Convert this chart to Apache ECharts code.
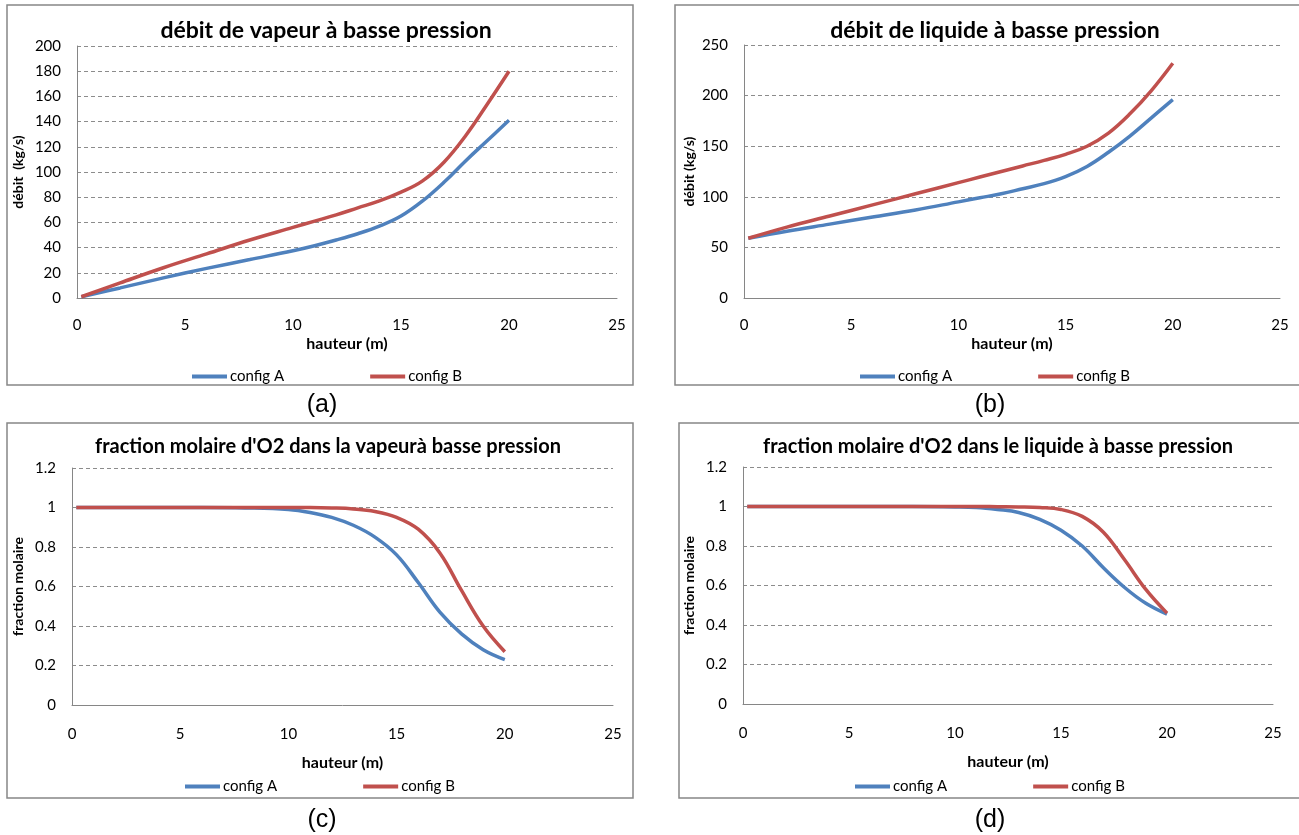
<!DOCTYPE html>
<html>
<head>
<meta charset="utf-8">
<script src="https://cdn.jsdelivr.net/npm/echarts@6/dist/echarts.min.js"></script>
<style>
  html, body { margin: 0; padding: 0; background: #fff; }
  #chart { width: 1299px; height: 835px; }
</style>
</head>
<body>
<div id="chart"></div>
<script>
// hauteur (m), shared by every panel
var heights = [0.2, 2, 4, 6, 8, 10, 11, 12, 13, 14, 15, 16, 17, 18, 19, 20];

// (a) débit de vapeur (kg/s)
var vapFlowA = [1, 8, 16, 23.5, 30.5, 37.5, 41.5, 46, 51, 57, 65, 77, 92, 109, 125, 141];
var vapFlowB = [1, 12, 24, 35, 46, 56, 61, 66, 71.5, 77, 84, 93, 108, 129, 154, 180];
// (b) débit de liquide (kg/s)
var liqFlowA = [59, 66, 73, 80, 87, 95, 99, 103, 108, 113, 120, 130, 144, 160, 178, 196];
var liqFlowB = [59, 70, 81, 92, 103, 114, 119.5, 125, 130.5, 136, 142, 150, 163, 182, 205, 232];
// (c) fraction molaire O2 vapeur
var vapFracA = [1, 1, 1, 1, 0.998, 0.99, 0.975, 0.95, 0.91, 0.85, 0.76, 0.62, 0.47, 0.36, 0.28, 0.23];
var vapFracB = [1, 1, 1, 1, 1, 1, 1, 0.998, 0.993, 0.98, 0.95, 0.89, 0.77, 0.58, 0.40, 0.27];
// (d) fraction molaire O2 liquide
var liqFracA = [1, 1, 1, 1, 1, 0.998, 0.995, 0.985, 0.97, 0.935, 0.88, 0.80, 0.69, 0.59, 0.51, 0.455];
var liqFracB = [1, 1, 1, 1, 1, 1, 1, 0.999, 0.998, 0.995, 0.985, 0.95, 0.87, 0.73, 0.58, 0.46];

var seriesNames = ['config A', 'config B'];
var colors = ['#4F81BD', '#C0504D'];

function pairs(ys) {
  return heights.map(function (h, i) { return [h, ys[i]]; });
}

var font = 'Lato, "Open Sans", sans-serif';
var gridColor = '#8c8c8c';

var panels = [
  { title: 'débit de vapeur à basse pression', tsize: 23, tx: 321, ty: 14,
    grid: { left: 77, top: 46, width: 540, height: 252 },
    ymax: 200, yint: 20, yname: 'débit  (kg/s)', ygap: 52, xgap: 38, xlab: 20,
    legend: { left: 187, top: 364 }, a: vapFlowA, b: vapFlowB },
  { title: 'débit de liquide à basse pression', tsize: 23, tx: 990, ty: 14,
    grid: { left: 744, top: 45, width: 536, height: 253 },
    ymax: 250, yint: 50, yname: 'débit (kg/s)', ygap: 48, xgap: 38, xlab: 20,
    legend: { left: 855, top: 364 }, a: liqFlowA, b: liqFlowB },
  { title: "fraction molaire d'O2 dans la vapeurà basse pression", tsize: 20, tx: 323, ty: 432,
    grid: { left: 72, top: 468, width: 541, height: 237 },
    ymax: 1.2, yint: 0.2, yname: 'fraction molaire', ygap: 47, xgap: 50, xlab: 22,
    legend: { left: 180, top: 774 }, a: vapFracA, b: vapFracB },
  { title: "fraction molaire d'O2 dans le liquide à basse pression", tsize: 20, tx: 993, ty: 432,
    grid: { left: 743, top: 467, width: 530, height: 237 },
    ymax: 1.2, yint: 0.2, yname: 'fraction molaire', ygap: 47, xgap: 50, xlab: 22,
    legend: { left: 850, top: 774 }, a: liqFracA, b: liqFracB }
];

var option = {
  animation: false,
  backgroundColor: '#fff',
  title: [], grid: [], xAxis: [], yAxis: [], legend: [], series: [],
  graphic: [
    { type: 'rect', shape: { x: 7, y: 5, width: 626, height: 380 }, style: { fill: 'none', stroke: '#878787', lineWidth: 1.5 } },
    { type: 'rect', shape: { x: 675, y: 5, width: 640, height: 380 }, style: { fill: 'none', stroke: '#878787', lineWidth: 1.5 } },
    { type: 'rect', shape: { x: 7, y: 423, width: 626, height: 375 }, style: { fill: 'none', stroke: '#878787', lineWidth: 1.5 } },
    { type: 'rect', shape: { x: 679, y: 423, width: 640, height: 375 }, style: { fill: 'none', stroke: '#878787', lineWidth: 1.5 } },
    { type: 'text', x: 322, y: 405, style: { text: '(a)', font: '25px "Liberation Sans", Arial, sans-serif', fill: '#000', textAlign: 'center', textVerticalAlign: 'middle' } },
    { type: 'text', x: 990, y: 405, style: { text: '(b)', font: '25px "Liberation Sans", Arial, sans-serif', fill: '#000', textAlign: 'center', textVerticalAlign: 'middle' } },
    { type: 'text', x: 322, y: 820, style: { text: '(c)', font: '25px "Liberation Sans", Arial, sans-serif', fill: '#000', textAlign: 'center', textVerticalAlign: 'middle' } },
    { type: 'text', x: 990, y: 820, style: { text: '(d)', font: '25px "Liberation Sans", Arial, sans-serif', fill: '#000', textAlign: 'center', textVerticalAlign: 'middle' } }
  ]
};

panels.forEach(function (p, i) {
  option.title.push({
    text: p.title, left: p.tx, top: p.ty, textAlign: 'center',
    textStyle: { fontFamily: font, fontWeight: 'bold', fontSize: p.tsize, color: '#000' }
  });
  option.grid.push(p.grid);
  option.xAxis.push({
    type: 'value', gridIndex: i, min: 0, max: 25, interval: 5,
    name: 'hauteur (m)', nameLocation: 'middle', nameGap: p.xgap,
    nameTextStyle: { fontFamily: font, fontWeight: 'bold', fontSize: 16, color: '#000' },
    axisLine: { lineStyle: { color: '#868686', width: 1 } },
    axisTick: { show: false },
    axisLabel: { fontFamily: font, fontSize: 15, color: '#000', margin: p.xlab },
    splitLine: { show: false }
  });
  option.yAxis.push({
    type: 'value', gridIndex: i, min: 0, max: p.ymax, interval: p.yint,
    name: p.yname, nameLocation: 'middle', nameGap: p.ygap, nameRotate: 90,
    nameTextStyle: { fontFamily: font, fontWeight: 'bold', fontSize: 14, color: '#000' },
    axisLine: { show: true, lineStyle: { color: '#868686', width: 1 } },
    axisTick: { show: false },
    axisLabel: { fontFamily: font, fontSize: 15, color: '#000', margin: 16 },
    splitLine: { show: true, lineStyle: { color: gridColor, type: [4, 3], width: 1 } }
  });
  option.legend.push({
    left: p.legend.left, top: p.legend.top, itemGap: 86,
    itemWidth: 35, itemHeight: 4, icon: 'rect',
    data: seriesNames.map(function (n, k) { return { name: n, itemStyle: { color: colors[k] } }; }),
    textStyle: { fontFamily: font, fontSize: 15, color: '#000', padding: [0, 0, 0, -2] }
  });
  [p.a, p.b].forEach(function (ys, k) {
    option.series.push({
      name: seriesNames[k], type: 'line', xAxisIndex: i, yAxisIndex: i,
      data: pairs(ys), smooth: 0.4, symbol: 'none',
      lineStyle: { color: colors[k], width: 3.5 },
      itemStyle: { color: colors[k] }
    });
  });
});

var chart = echarts.init(document.getElementById('chart'));
chart.setOption(option);
</script>
</body>
</html>
